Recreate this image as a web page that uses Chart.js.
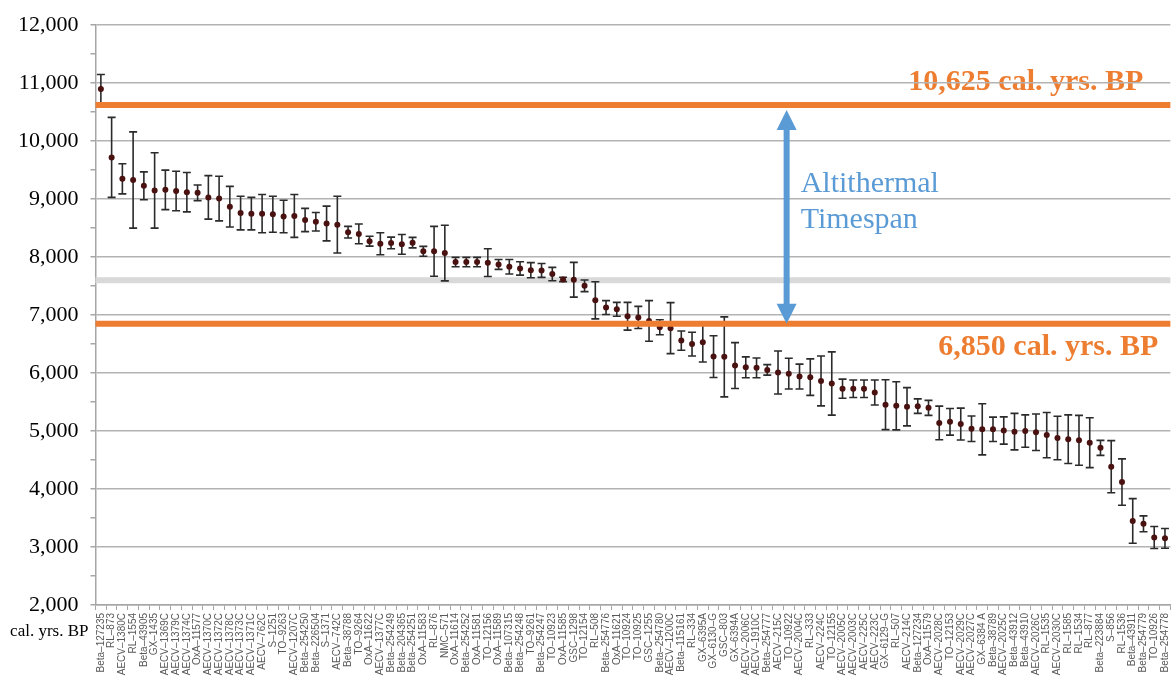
<!DOCTYPE html>
<html>
<head>
<meta charset="utf-8">
<script src="https://cdn.jsdelivr.net/npm/chart.js@4.4.1/dist/chart.umd.min.js"></script>
<style>
html, body { margin: 0; padding: 0; background: #fff; overflow: hidden; }
#wrap { width: 1180px; height: 677px; }
</style>
</head>
<body>
<div id="wrap"><canvas id="chart" width="1180" height="677"></canvas></div>
<script>
const SAMPLES = [
  'Beta–127235', 'RL–873', 'AECV–1380C', 'RL–1554', 'Beta–43905', 'GX–1435', 'AECV–1369C', 'AECV–1379C', 'AECV–1374C', 'OxA–11577',
  'AECV–1370C', 'AECV–1372C', 'AECV–1378C', 'AECV–1373C', 'AECV–1371C', 'AECV–762C', 'S–1251', 'TO–9263', 'AECV–1207C', 'Beta–254250',
  'Beta–226504', 'S–1371', 'AECV–742C', 'Beta–38788', 'TO–9264', 'OxA–11622', 'AECV–1377C', 'Beta–254249', 'Beta–204365', 'Beta–254251',
  'OxA–11583', 'RL–876', 'NMC–571', 'OxA–11614', 'Beta–254252', 'OxA–11581', 'TO–12156', 'OxA–11589', 'Beta–107315', 'Beta–254248',
  'TO–9261', 'Beta–254247', 'TO–10923', 'OxA–11585', 'GSC–1298', 'TO–12154', 'RL–508', 'Beta–254776', 'OxA–11621', 'TO–10924',
  'TO–10925', 'GSC–1255', 'Beta–254780', 'AECV–1200C', 'Beta–115161', 'RL–334', 'GX–6395A', 'GX–6130–G', 'GSC–803', 'GX–6394A',
  'AECV–2006C', 'AECV–1910C', 'Beta–254777', 'AECV–215C', 'TO–10922', 'AECV–2004C', 'RL–333', 'AECV–224C', 'TO–12155', 'AECV–2005C',
  'AECV–2003C', 'AECV–225C', 'AECV–223C', 'GX–6129–G', 'RL–507', 'AECV–214C', 'Beta–127234', 'OxA–11579', 'AECV–2028C', 'TO–12153',
  'AECV–2029C', 'AECV–2027C', 'GX–6384 A', 'Beta–38789', 'AECV–2025C', 'Beta–43912', 'Beta–43910', 'AECV–2026C', 'RL–1535', 'AECV–2030C',
  'RL–1585', 'RL–1534', 'RL–877', 'Beta–223884', 'S–856', 'RL–1536', 'Beta–43911', 'Beta–254779', 'TO–10926', 'Beta–254778'
];

// calibrated age (cal. yrs. BP)
const AGES = [
  10900, 9720, 9350, 9330, 9230, 9150, 9160, 9140, 9120, 9110,
  9030, 9010, 8870, 8760, 8750, 8750, 8740, 8700, 8710, 8640,
  8610, 8580, 8560, 8430, 8400, 8275, 8230, 8245, 8220, 8250,
  8100, 8100, 8070, 7915, 7915, 7915, 7905, 7873, 7835, 7805,
  7775, 7770, 7708, 7615, 7610, 7505, 7255, 7130, 7100, 6980,
  6960, 6900, 6790, 6775, 6560, 6500, 6530, 6285, 6280, 6130,
  6100, 6090, 6055, 6010, 5990, 5940, 5930, 5865, 5820, 5730,
  5730, 5730, 5665, 5455, 5435, 5420, 5430, 5400, 5140, 5160,
  5120, 5040, 5030, 5030, 5010, 4990, 5000, 4980, 4930, 4880,
  4860, 4840, 4800, 4710, 4385, 4120, 3450, 3400, 3165, 3150
];

// half width of each error bar
const ERRORS = [
  250, 690, 260, 830, 240, 650, 340, 340, 340, 135,
  375, 385, 350, 290, 280, 330, 310, 280, 370, 200,
  160, 300, 490, 100, 170, 85, 190, 100, 170, 90,
  85, 430, 480, 80, 80, 80, 240, 85, 125, 115,
  130, 120, 115, 37, 300, 100, 320, 120, 120, 240,
  190, 350, 130, 440, 165, 205, 340, 360, 690, 395,
  180, 170, 90, 370, 265, 215, 315, 430, 545, 165,
  150, 150, 215, 430, 415, 330, 125, 130, 290, 230,
  275, 220, 440, 210, 235, 315, 280, 315, 390, 375,
  420, 430, 430, 130, 450, 400, 385, 137, 190, 170
];

const Y_MIN = 2000;
const Y_MAX = 12000;
const START_BP = 10625;
const END_BP = 6850;
const MID_BP = 7600;
const ARROW_AT = 63.8;   // category index where the arrow stands
const START_LABEL = '10,625 cal. yrs. BP';
const END_LABEL = '6,850 cal. yrs. BP';
const SPAN_LABEL = ['Altithermal', 'Timespan'];
const AXIS_LABEL = 'cal. yrs. BP';

const ORANGE = '#ED7D31';
const BLUE = '#5B9BD5';

const annotations = {
  id: 'annotations',
  beforeDraw(chart) {
    // the top label sits under the grid in the original
    const {ctx, chartArea, scales: {y}} = chart;
    ctx.save();
    ctx.font = 'bold 30px "Liberation Serif"';
    ctx.fillStyle = ORANGE;
    ctx.textAlign = 'right';
    ctx.textBaseline = 'middle';
    ctx.fillText(START_LABEL, chartArea.right - 27, y.getPixelForValue(START_BP) - 23);
    ctx.restore();
  },
  beforeDatasetsDraw(chart) {
    const {ctx, chartArea, scales: {x, y}} = chart;
    ctx.save();
    // light grey reference line
    ctx.strokeStyle = '#d9d9d9';
    ctx.lineWidth = 6;
    ctx.beginPath();
    ctx.moveTo(chartArea.left, y.getPixelForValue(MID_BP));
    ctx.lineTo(chartArea.right, y.getPixelForValue(MID_BP));
    ctx.stroke();
    // error bars
    ctx.strokeStyle = '#2b2b2b';
    ctx.lineWidth = 1.6;
    AGES.forEach((age, i) => {
      const px = x.getPixelForValue(i);
      const top = y.getPixelForValue(age + ERRORS[i]);
      const bot = y.getPixelForValue(age - ERRORS[i]);
      ctx.beginPath();
      ctx.moveTo(px, top); ctx.lineTo(px, bot);
      ctx.moveTo(px - 4, top); ctx.lineTo(px + 4, top);
      ctx.moveTo(px - 4, bot); ctx.lineTo(px + 4, bot);
      ctx.stroke();
    });
    ctx.restore();
  },
  afterDatasetsDraw(chart) {
    const {ctx, chartArea, scales: {x, y}} = chart;
    const yStart = y.getPixelForValue(START_BP);
    const yEnd = y.getPixelForValue(END_BP);
    ctx.save();
    ctx.strokeStyle = ORANGE;
    ctx.lineWidth = 6;
    [yStart, yEnd].forEach(py => {
      ctx.beginPath();
      ctx.moveTo(chartArea.left, py);
      ctx.lineTo(chartArea.right, py);
      ctx.stroke();
    });

    // double arrow
    const ax = x.getPixelForValue(ARROW_AT);
    const tipTop = yStart + 5;
    const tipBot = yEnd;
    ctx.strokeStyle = BLUE;
    ctx.fillStyle = BLUE;
    ctx.lineWidth = 6;
    ctx.beginPath();
    ctx.moveTo(ax, tipTop + 18);
    ctx.lineTo(ax, tipBot - 18);
    ctx.stroke();
    ctx.beginPath();
    ctx.moveTo(ax, tipTop); ctx.lineTo(ax - 10, tipTop + 20); ctx.lineTo(ax + 10, tipTop + 20);
    ctx.closePath(); ctx.fill();
    ctx.beginPath();
    ctx.moveTo(ax, tipBot); ctx.lineTo(ax - 10, tipBot - 20); ctx.lineTo(ax + 10, tipBot - 20);
    ctx.closePath(); ctx.fill();

    ctx.font = '30px "Liberation Serif"';
    ctx.textAlign = 'left';
    ctx.textBaseline = 'middle';
    ctx.fillText(SPAN_LABEL[0], ax + 14, yStart + 79);
    ctx.fillText(SPAN_LABEL[1], ax + 14, yStart + 115);

    ctx.font = 'bold 30px "Liberation Serif"';
    ctx.fillStyle = ORANGE;
    ctx.textAlign = 'right';
    ctx.fillText(END_LABEL, chartArea.right - 12, yEnd + 23);

    ctx.font = '17px "Liberation Serif"';
    ctx.fillStyle = '#000';
    ctx.fillText(AXIS_LABEL, chartArea.left - 7, chartArea.bottom + 27);
    ctx.restore();
  }
};

new Chart(document.getElementById('chart'), {
  type: 'line',
  data: {
    labels: SAMPLES,
    datasets: [{
      data: AGES,
      showLine: false,
      pointRadius: 3,
      pointBackgroundColor: '#4a1111',
      pointBorderWidth: 0
    }]
  },
  options: {
    responsive: false,
    animation: false,
    devicePixelRatio: 1,
    layout: { padding: { top: 20, right: 5, left: 0, bottom: 0 } },
    plugins: { legend: { display: false }, tooltip: { enabled: false } },
    scales: {
      x: {
        offset: true,
        grid: { drawOnChartArea: false, drawTicks: true, tickLength: 5, color: '#a6a6a6', offset: true },
        border: { color: '#a6a6a6', width: 1.5 },
        ticks: {
          autoSkip: false, maxRotation: 90, minRotation: 90, padding: 3,
          color: '#595959', font: { family: 'Liberation Sans', size: 10 }
        },
        afterFit(s) { s.height = 72; }
      },
      y: {
        min: Y_MIN,
        max: Y_MAX,
        ticks: {
          stepSize: 500, autoSkip: false, padding: 12, color: '#000',
          font: { family: 'Liberation Serif', size: 22 },
          callback: v => v % 1000 ? '' : v.toLocaleString('en-US')
        },
        grid: {
          color: c => (c.tick && c.tick.value % 1000) ? 'rgba(0,0,0,0)' : '#b3b3b3',
          lineWidth: 1.5, tickLength: 5, tickColor: '#a6a6a6'
        },
        border: { color: '#a6a6a6', width: 1.5 },
        afterFit(s) { s.width = 95.5; }
      }
    }
  },
  plugins: [annotations]
});
</script>
</body>
</html>
